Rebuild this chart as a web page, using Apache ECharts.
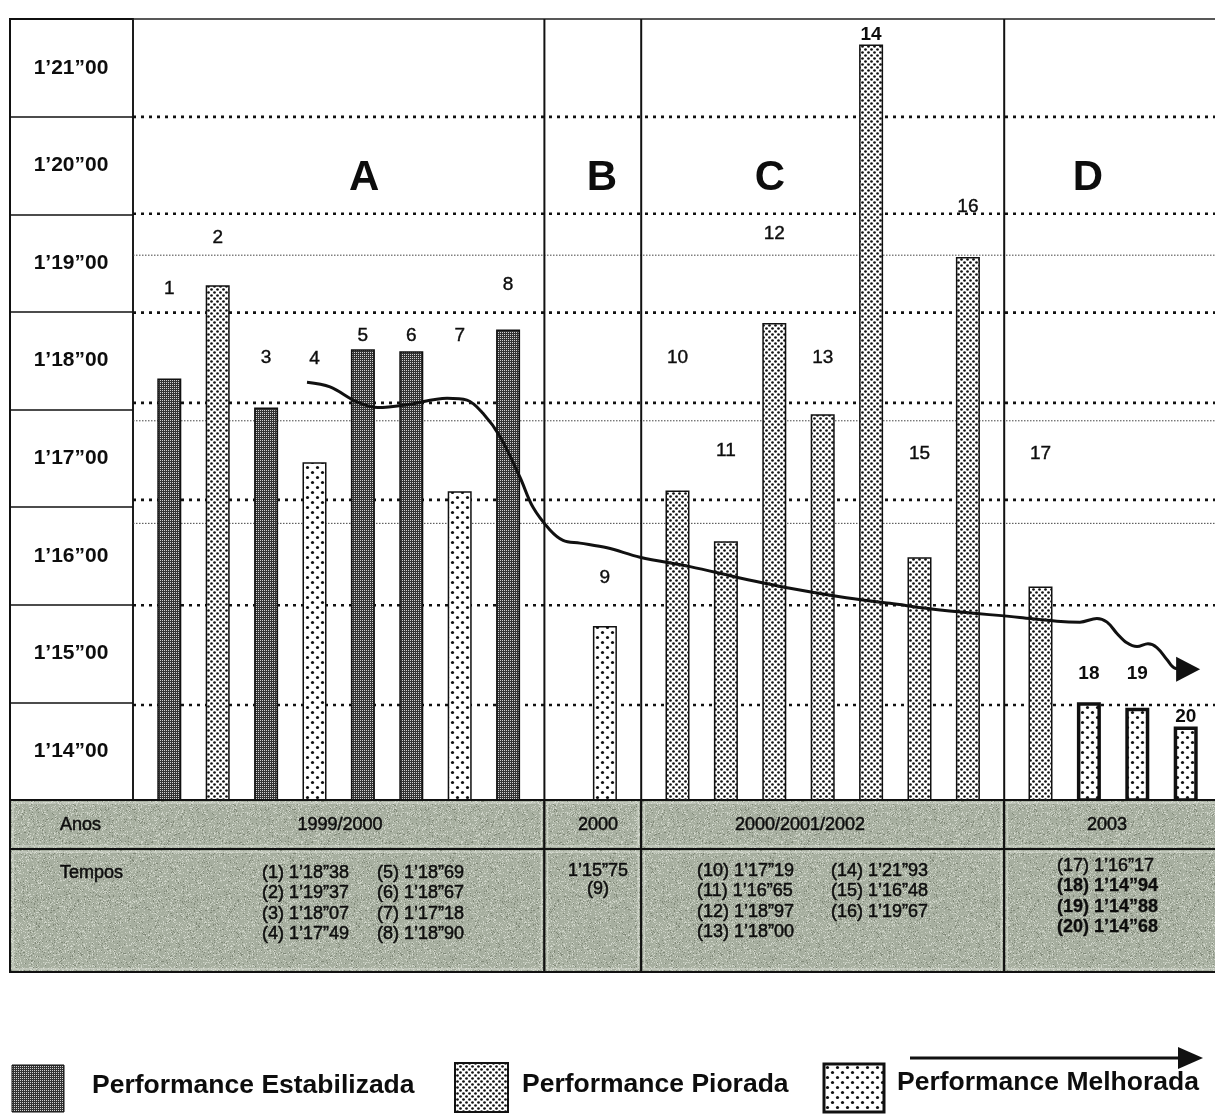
<!DOCTYPE html>
<html>
<head>
<meta charset="utf-8">
<script src="https://cdn.jsdelivr.net/npm/echarts@6/dist/echarts.min.js"></script>
<style>
  html, body { margin: 0; padding: 0; background: #fff; }
  #chart { width: 1215px; height: 1114px; }
</style>
</head>
<body>
<div id="chart"></div>
<script>
// ---------------------------------------------------------------------------
// Data
// ---------------------------------------------------------------------------
// Attempt numbers and lap times in seconds (1'18"38 -> 78.38 s)
const attempts = ['1','2','3','4','5','6','7','8','9','10','11','12','13','14','15','16','17','18','19','20'];
const lapSeconds = [78.38, 79.37, 78.07, 77.49, 78.69, 78.67, 77.18, 78.90,
                    75.75,
                    77.19, 76.65, 78.97, 78.00, 81.93, 76.48, 79.67,
                    76.17, 74.94, 74.88, 74.68];
// Performance class of each attempt: E = estabilizada, P = piorada, M = melhorada
const perfClass = ['E','P','E','M','E','E','M','E',
                   'M',
                   'P','P','P','P','P','P','P',
                   'P','M','M','M'];
// Periods
const periodLetters = ['A', 'B', 'C', 'D'];
const periodYears = ['1999/2000', '2000', '2000/2001/2002', '2003'];
const periodSize = [8, 1, 7, 4];
// Row labels of the time scale, bottom to top
const timeRows = ['1’14”00', '1’15”00', '1’16”00', '1’17”00', '1’18”00', '1’19”00', '1’20”00', '1’21”00'];
// Trend curve (x in bar slots, y in seconds)
const trendSlot = [7.19, 8.14, 9.26, 10.12, 11.32, 12.98, 13.80, 14.46, 15.17, 15.99, 16.53, 17.23,
                   17.77, 18.47, 19.59, 20.95, 23.02, 25.08, 27.15, 29.21, 31.28, 33.35, 36.65, 38.18,
                   39.13, 39.83, 40.25, 40.66, 41.07, 41.49, 41.94, 42.31, 42.73, 43.06, 43.6];
const trendSeconds = [78.34, 78.29, 78.13, 78.07, 78.10, 78.17, 78.15, 78.01, 77.76, 77.33, 77.01, 76.77,
                      76.66, 76.63, 76.58, 76.48, 76.38, 76.26, 76.15, 76.06, 75.99, 75.92, 75.84, 75.80,
                      75.79, 75.83, 75.79, 75.67, 75.57, 75.53, 75.56, 75.52, 75.39, 75.30, 75.29];
// Dotted guide levels (seconds)
const heavyGuides = [81.16, 80.13, 79.08, 78.12, 77.09, 75.97, 74.91];
const lightGuides = [79.69, 77.93, 76.84];

// ---------------------------------------------------------------------------
// Layout & style
// ---------------------------------------------------------------------------
const FONT = 'Liberation Sans, Arial, Helvetica, sans-serif';
const INK = '#0d0d0d';
const PLOT = { left: 133, top: 19, height: 781 };
const SLOTS = 45, SLOT_W = 24.2;
const Y_MIN = 73.9, Y_MAX = 82.2;
const periodPad = [[1, 2], [2, 2], [1, 2], [1, 2]];   // empty slots before / after each period
const labelGap = [80, 38, 40, 94, 4, 6, 146, 35, 39, 123, 81, 80, 47, 0, 94, 41, 123, 19, 25, 0];
const boldLabel = ['14', '18', '19', '20'];
const thickBorder = ['18', '19', '20'];
const letterSlot = [9.55, 19.38, 26.32, 39.46];
const letterLevel = 80.51;
const yearCenter = [340, 598, 800, 1107];
const TABLE = { left: 10, top: 800, mid: 849, bottom: 972, right: 1222 };
const tempoBlocks = [
  { cols: [262, 377], y: 873 },
  { center: 598, y: 871 },
  { cols: [697, 831], y: 871 },
  { cols: [1057], y: 866 }
];
const ROW_STEP = 20.5;

// fill patterns
function makeCanvas(w, h) {
  const c = document.createElement('canvas');
  c.width = w; c.height = h;
  return c;
}
function patternStable() {
  const c = makeCanvas(4, 4), g = c.getContext('2d');
  g.fillStyle = '#333'; g.fillRect(0, 0, 4, 4);
  g.fillStyle = '#d2d2d2';
  [[0, 0], [2, 2], [0, 2], [2, 0]].forEach(p => g.fillRect(p[0], p[1], 1, 1));
  return c;
}
function patternDots(size, r, bg) {
  const c = makeCanvas(size, size), g = c.getContext('2d');
  g.fillStyle = bg; g.fillRect(0, 0, size, size);
  g.fillStyle = '#111';
  const q = size / 4;
  [[q, q], [3 * q, 3 * q]].forEach(p => { g.beginPath(); g.arc(p[0], p[1], r, 0, Math.PI * 2); g.fill(); });
  return c;
}
function patternGrain() {
  const c = makeCanvas(160, 160), g = c.getContext('2d');
  g.fillStyle = '#a6ae9f'; g.fillRect(0, 0, 160, 160);
  let seed = 12345;
  const next = () => { seed = (seed * 1103515245 + 12345) % 2147483648; return seed / 2147483648; };
  for (let i = 0; i < 160 * 160; i++) {
    const t = next();
    const x = i % 160, y = Math.floor(i / 160);
    if (t < 0.12) { g.fillStyle = '#d0d5ca'; g.fillRect(x, y, 1, 1); }
    else if (t < 0.18) { g.fillStyle = '#7f8777'; g.fillRect(x, y, 1, 1); }
    else if (t < 0.30) { g.fillStyle = '#b8bfb0'; g.fillRect(x, y, 1, 1); }
  }
  return c;
}
const fills = {
  E: { image: patternStable(), repeat: 'repeat' },
  P: { image: patternDots(6, 1.35, '#fff'), repeat: 'repeat' },
  M: { image: patternDots(10, 1.6, '#fff'), repeat: 'repeat' }
};
const grain = { image: patternGrain(), repeat: 'repeat' };

// ---------------------------------------------------------------------------
// Slot layout of the bars
// ---------------------------------------------------------------------------
const slotNames = new Array(SLOTS).fill('');
const barSlot = [];
const periodBounds = [0];
(function () {
  let s = 0, k = 0;
  periodSize.forEach((n, p) => {
    s += periodPad[p][0];
    for (let i = 0; i < n; i++) {
      barSlot.push(s);
      slotNames[s] = attempts[k];
      k++;
      if (i < n - 1) s += 2;
    }
    s += periodPad[p][1];
    periodBounds.push(s);
  });
})();
const slotX = s => PLOT.left + s * SLOT_W;

function fmtTime(v) {
  const whole = Math.floor(v + 1e-9);
  const cent = Math.round((v - whole) * 100);
  return '1’' + (whole - 60) + '”' + String(cent).padStart(2, '0');
}

// ---------------------------------------------------------------------------
// Series
// ---------------------------------------------------------------------------
const barSeries = ['E', 'P', 'M'].map(cls => {
  const data = slotNames.map(() => '-');
  attempts.forEach((a, k) => {
    if (perfClass[k] !== cls) return;
    const bold = boldLabel.includes(a);
    data[barSlot[k]] = {
      value: lapSeconds[k],
      label: {
        distance: labelGap[k],
        fontWeight: bold ? 'bold' : 'normal',
        textBorderWidth: bold ? 0 : 0.4
      },
      itemStyle: { borderWidth: thickBorder.includes(a) ? 3.5 : 1.5 }
    };
  });
  return {
    type: 'bar', xAxisIndex: 1, yAxisIndex: 1, z: 3,
    barWidth: 24, barGap: '-100%', silent: true,
    itemStyle: { color: fills[cls], borderColor: '#111', borderWidth: 1.5 },
    label: {
      show: true, position: 'top', formatter: '{b}',
      fontFamily: FONT, fontSize: 19, color: INK,
      textBorderColor: INK, textBorderWidth: 0.4
    },
    data: data
  };
});

const guideSeries = [];
heavyGuides.forEach(v => guideSeries.push({
  type: 'line', xAxisIndex: 2, yAxisIndex: 1, z: 1, silent: true, symbol: 'none',
  lineStyle: { color: '#111', width: 2.6, type: [3, 5] },
  data: [[0, v], [SLOTS, v]]
}));
lightGuides.forEach(v => guideSeries.push({
  type: 'line', xAxisIndex: 2, yAxisIndex: 1, z: 1, silent: true, symbol: 'none',
  lineStyle: { color: '#444', width: 1, type: [1.5, 1.5] },
  data: [[0, v], [SLOTS, v]]
}));
periodBounds.slice(1, -1).forEach(b => guideSeries.push({
  type: 'line', xAxisIndex: 2, yAxisIndex: 1, z: 2, silent: true, symbol: 'none',
  lineStyle: { color: '#111', width: 2 },
  data: [[b, Y_MIN], [b, Y_MAX]]
}));

const letterSeries = {
  type: 'scatter', xAxisIndex: 2, yAxisIndex: 1, z: 4, silent: true,
  symbolSize: 0,
  itemStyle: { opacity: 1, color: INK },
  label: {
    show: true, position: 'inside', formatter: p => periodLetters[p.dataIndex],
    fontFamily: FONT, fontSize: 42, fontWeight: 'bold', color: INK, opacity: 1
  },
  data: letterSlot.map(x => [x, letterLevel])
};

const trendSeries = {
  type: 'line', xAxisIndex: 2, yAxisIndex: 1, z: 6, silent: true,
  smooth: 0.35, symbol: 'none',
  lineStyle: { color: '#111', width: 3 },
  data: trendSlot.map((x, i) => [x, trendSeconds[i]])
};
const arrowSeries = {
  type: 'scatter', xAxisIndex: 2, yAxisIndex: 1, z: 7, silent: true,
  symbol: 'triangle', symbolSize: [25, 24], symbolRotate: -90,
  itemStyle: { color: '#111', opacity: 1 },
  data: [[trendSlot[trendSlot.length - 1], trendSeconds[trendSeconds.length - 1]]]
};

// ---------------------------------------------------------------------------
// Table under the chart and legend (graphic elements)
// ---------------------------------------------------------------------------
const gfx = [];
const cellX = [TABLE.left].concat(periodBounds.slice(1).map(slotX));
function cellRect(x0, x1, y0, y1) {
  gfx.push({
    type: 'rect', z: 10,
    shape: { x: x0, y: y0, width: x1 - x0, height: y1 - y0 },
    style: { fill: grain, stroke: '#111', lineWidth: 2 }
  });
  gfx.push({
    type: 'rect', z: 11,
    shape: { x: x0 + 3, y: y0 + 3, width: x1 - x0 - 6, height: y1 - y0 - 6 },
    style: { fill: 'none', stroke: 'rgba(235,238,230,0.5)', lineWidth: 1.5 }
  });
}
function cellText(txt, x, y, align, bold) {
  gfx.push({
    type: 'text', z: 12, x: x, y: y,
    style: {
      text: txt, fill: INK, font: (bold ? 'bold ' : '') + '18px ' + FONT,
      align: align, textAlign: align, verticalAlign: 'middle', textVerticalAlign: 'middle',
      stroke: INK, lineWidth: bold ? 0.3 : 0.5
    }
  });
}
for (let p = 0; p < periodYears.length; p++) {
  cellRect(cellX[p], cellX[p + 1], TABLE.top, TABLE.mid);
  cellRect(cellX[p], cellX[p + 1], TABLE.mid, TABLE.bottom);
  cellText(periodYears[p], yearCenter[p], 825, 'center', false);
}
cellText('Anos', 60, 825, 'left', false);
cellText('Tempos', 60, 873, 'left', false);
(function () {
  let k = 0;
  periodSize.forEach((n, p) => {
    const blk = tempoBlocks[p];
    const ids = [];
    for (let i = 0; i < n; i++) ids.push(k + i);
    if (n === 1) {
      cellText(fmtTime(lapSeconds[ids[0]]), blk.center, blk.y, 'center', false);
      cellText('(' + attempts[ids[0]] + ')', blk.center, blk.y + ROW_STEP - 2, 'center', false);
    } else {
      ids.forEach((id, j) => {
        const col = Math.floor(j / 4), row = j % 4;
        const a = attempts[id];
        cellText('(' + a + ') ' + fmtTime(lapSeconds[id]), blk.cols[col], blk.y + row * ROW_STEP, 'left', thickBorder.includes(a));
      });
    }
    k += n;
  });
})();

// legend
const legendItems = [
  { cls: 'E', box: [12, 1065, 52, 47], border: 1, text: 'Performance Estabilizada', tx: 92, ty: 1086 },
  { cls: 'P', box: [455, 1063, 53, 49], border: 2, text: 'Performance Piorada', tx: 522, ty: 1085 },
  { cls: 'M', box: [824, 1064, 60, 48], border: 3, text: 'Performance Melhorada', tx: 897, ty: 1083 }
];
legendItems.forEach(it => {
  gfx.push({
    type: 'rect', z: 10,
    shape: { x: it.box[0], y: it.box[1], width: it.box[2], height: it.box[3] },
    style: { fill: fills[it.cls], stroke: '#111', lineWidth: it.border }
  });
  gfx.push({
    type: 'text', z: 10, x: it.tx, y: it.ty,
    style: {
      text: it.text, fill: INK, font: 'bold 26.5px ' + FONT,
      align: 'left', textAlign: 'left', verticalAlign: 'middle', textVerticalAlign: 'middle'
    }
  });
});
gfx.push({
  type: 'line', z: 10,
  shape: { x1: 910, y1: 1058, x2: 1185, y2: 1058 },
  style: { stroke: '#111', lineWidth: 3 }
});
gfx.push({
  type: 'polygon', z: 10,
  shape: { points: [[1178, 1047], [1178, 1069], [1203, 1058]] },
  style: { fill: '#111' }
});

// ---------------------------------------------------------------------------
// Chart
// ---------------------------------------------------------------------------
const chart = echarts.init(document.getElementById('chart'), null, { renderer: 'canvas' });
chart.setOption({
  animation: false,
  backgroundColor: '#fff',
  grid: [
    { left: 10, top: PLOT.top, width: 123, height: PLOT.height, show: true,
      borderColor: '#111', borderWidth: 2, outerBoundsMode: 'none' },
    { left: PLOT.left, top: PLOT.top, width: SLOTS * SLOT_W, height: PLOT.height, show: true,
      borderColor: '#222', borderWidth: 1.5, outerBoundsMode: 'none' }
  ],
  xAxis: [
    { gridIndex: 0, type: 'value', show: false },
    { gridIndex: 1, type: 'category', data: slotNames, show: false },
    { gridIndex: 1, type: 'value', min: 0, max: SLOTS, show: false }
  ],
  yAxis: [
    { gridIndex: 0, type: 'category', data: timeRows,
      axisLine: { show: true, lineStyle: { color: '#111', width: 2 } },
      axisTick: { show: false },
      splitLine: { show: true, interval: 0, lineStyle: { color: '#111', width: 1.6 } },
      axisLabel: { inside: true, interval: 0, margin: 61, align: 'center',
        fontFamily: FONT, fontSize: 21, fontWeight: 'bold', color: INK } },
    { gridIndex: 1, type: 'value', min: Y_MIN, max: Y_MAX, show: false, splitLine: { show: false } }
  ],
  series: guideSeries.concat(barSeries, [letterSeries, trendSeries, arrowSeries]),
  graphic: { elements: gfx }
});
</script>
</body>
</html>
